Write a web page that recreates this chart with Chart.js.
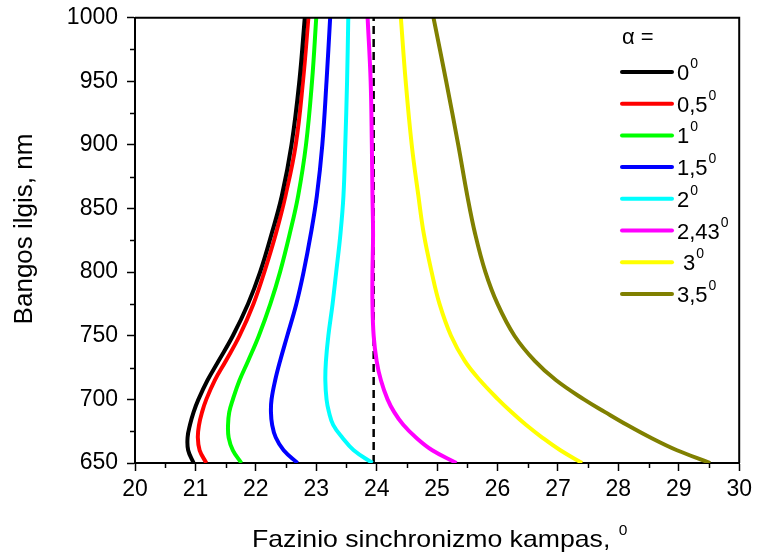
<!DOCTYPE html>
<html>
<head>
<meta charset="utf-8">
<script src="https://cdn.jsdelivr.net/npm/chart.js@4"></script>
<style>
  html, body { margin: 0; padding: 0; background: #fff; }
  #wrap { width: 757px; height: 556px; }
</style>
</head>
<body>
<div id="wrap"><canvas id="myChart" width="757" height="556"></canvas></div>
<script>
// wavelength, nm (y) -- all curves sampled at the same points
var wavelengths = [650, 660, 670, 680, 690, 700, 715, 730, 750, 775, 800, 830, 860, 900, 950, 1000];

// phase matching angle, deg (x) for each alpha
var angle0   = [20.97, 20.88, 20.87, 20.91, 20.97, 21.05, 21.20, 21.38, 21.62, 21.87, 22.07, 22.26, 22.43, 22.59, 22.72, 22.81];
var angle05  = [21.18, 21.07, 21.04, 21.06, 21.11, 21.18, 21.32, 21.50, 21.73, 21.96, 22.14, 22.33, 22.49, 22.66, 22.78, 22.87];
var angle1   = [21.76, 21.62, 21.55, 21.54, 21.56, 21.62, 21.73, 21.87, 22.05, 22.24, 22.40, 22.56, 22.70, 22.83, 22.93, 23.00];
var angle15  = [22.69, 22.46, 22.33, 22.27, 22.25, 22.26, 22.32, 22.40, 22.52, 22.67, 22.79, 22.91, 23.01, 23.10, 23.17, 23.23];
var angle2   = [23.93, 23.62, 23.43, 23.28, 23.21, 23.17, 23.15, 23.16, 23.20, 23.27, 23.33, 23.40, 23.45, 23.48, 23.51, 23.53];
var angle243 = [25.32, 24.92, 24.65, 24.44, 24.29, 24.18, 24.07, 24.00, 23.95, 23.93, 23.93, 23.94, 23.93, 23.92, 23.90, 23.85];
var angle3   = [27.40, 27.04, 26.74, 26.47, 26.23, 26.01, 25.71, 25.46, 25.23, 25.04, 24.91, 24.78, 24.69, 24.58, 24.48, 24.40];
var angle35  = [29.52, 28.97, 28.53, 28.14, 27.78, 27.43, 26.97, 26.62, 26.28, 26.00, 25.80, 25.63, 25.50, 25.35, 25.15, 24.94];

var seriesLabels = ['0', '0,5', '1', '1,5', '2', '2,43', ' 3', '3,5'];
var seriesAngles = [angle0, angle05, angle1, angle15, angle2, angle243, angle3, angle35];
var seriesColors = ['#000000', '#ff0000', '#00ff00', '#0000ff', '#00ffff', '#ff00ff', '#ffff00', '#808000'];

// vertical dashed line
var dashAngle = 23.95;
var dashRange = [650, 1000];

var xTicks = [20, 21, 22, 23, 24, 25, 26, 27, 28, 29, 30];
var yTicks = [650, 700, 750, 800, 850, 900, 950, 1000];

var FONT = 'Liberation Sans, Arial, Helvetica, sans-serif';

var datasets = [];
for (var i = 0; i < seriesAngles.length; i++) {
  datasets.push({
    label: seriesLabels[i],
    data: wavelengths.map(function(w, j){ return {x: seriesAngles[i][j], y: w}; }),
    borderColor: seriesColors[i],
    backgroundColor: seriesColors[i],
    borderWidth: 4,
    pointRadius: 0,
    showLine: true,
    tension: 0.4,
    fill: false
  });
}
datasets.push({
  label: 'dash',
  data: dashRange.map(function(w){ return {x: dashAngle, y: w}; }),
  borderColor: '#000',
  borderWidth: 2.5,
  borderDash: [8, 5],
  pointRadius: 0,
  showLine: true,
  fill: false
});

// minor ticks, frame, axis titles and legend
var extras = {
  id: 'extras',
  afterDraw: function(chart){
    var ctx = chart.ctx;
    var a = chart.chartArea;
    var xs = chart.scales.x, ys = chart.scales.y;
    ctx.save();
    ctx.strokeStyle = '#000';
    ctx.lineWidth = 1.5;
    // minor ticks
    for (var v = 20.5; v < 30; v += 1) {
      var px = Math.round(xs.getPixelForValue(v)) + 0.5;
      ctx.beginPath(); ctx.moveTo(px, a.bottom); ctx.lineTo(px, a.bottom + 5); ctx.stroke();
    }
    for (var w = 675; w < 1000; w += 50) {
      var py = Math.round(ys.getPixelForValue(w)) + 0.5;
      ctx.beginPath(); ctx.moveTo(a.left, py); ctx.lineTo(a.left - 5, py); ctx.stroke();
    }
    // frame top / right
    ctx.lineWidth = 2;
    ctx.beginPath();
    ctx.moveTo(a.left, a.top); ctx.lineTo(a.right, a.top); ctx.lineTo(a.right, a.bottom);
    ctx.stroke();

    ctx.fillStyle = '#000';
    // y title
    ctx.save();
    ctx.translate(25, 229);
    ctx.rotate(-Math.PI / 2);
    ctx.font = '26px ' + FONT;
    ctx.textAlign = 'center';
    ctx.textBaseline = 'middle';
    ctx.fillText('Bangos ilgis, nm', 0, 0);
    ctx.restore();

    // x title with superscript
    ctx.save();
    ctx.font = '24px ' + FONT;
    var t = 'Fazinio sinchronizmo kampas, ';
    var tw = ctx.measureText(t).width;
    ctx.translate(252, 547);
    ctx.scale(1.11, 1);
    ctx.textAlign = 'left';
    ctx.textBaseline = 'alphabetic';
    ctx.fillText(t, 0, 0);
    ctx.font = '14px ' + FONT;
    ctx.fillText('0', tw + 1, -12);
    ctx.restore();

    // legend
    ctx.font = '22px ' + FONT;
    ctx.textAlign = 'left';
    ctx.textBaseline = 'middle';
    ctx.fillText('\u03B1 =', 622, 38);
    ctx.lineCap = 'round';
    for (var k = 0; k < seriesLabels.length; k++) {
      var ry = 72 + k * 31.7;
      ctx.strokeStyle = seriesColors[k];
      ctx.lineWidth = 4;
      ctx.beginPath(); ctx.moveTo(622, ry); ctx.lineTo(672, ry); ctx.stroke();
      ctx.font = '22px ' + FONT;
      ctx.textBaseline = 'alphabetic';
      ctx.fillText(seriesLabels[k], 677, ry + 8);
      var lw = ctx.measureText(seriesLabels[k]).width;
      ctx.font = '14px ' + FONT;
      ctx.fillText('0', 677 + lw + 1, ry - 4);
    }
    ctx.restore();
  }
};

var ctx = document.getElementById('myChart').getContext('2d');
var myChart = new Chart(ctx, {
  type: 'scatter',
  data: { datasets: datasets },
  options: {
    responsive: false,
    animation: false,
    layout: { padding: { left: 0, top: 2, right: 14, bottom: 0 } },
    plugins: { legend: { display: false }, tooltip: { enabled: false } },
    scales: {
      x: {
        type: 'linear', min: 20, max: 30,
        afterFit: function(s){ s.height = 93; },
        afterBuildTicks: function(s){ s.ticks = xTicks.map(function(v){ return {value: v}; }); },
        ticks: { color: '#000', font: { family: FONT, size: 23 }, padding: 5, maxRotation: 0,
                 callback: function(v){ return String(v); } },
        grid: { drawOnChartArea: false, drawTicks: true, tickLength: 8, tickColor: '#000', tickWidth: 1.5 },
        border: { color: '#000', width: 2 }
      },
      y: {
        type: 'linear', min: 650, max: 1000,
        afterFit: function(s){ s.width = 135; },
        afterBuildTicks: function(s){ s.ticks = yTicks.map(function(v){ return {value: v}; }); },
        ticks: { color: '#000', font: { family: FONT, size: 23, lineHeight: 0.75 }, padding: 9,
                 callback: function(v){ return String(v); } },
        grid: { drawOnChartArea: false, drawTicks: true, tickLength: 8, tickColor: '#000', tickWidth: 1.5 },
        border: { color: '#000', width: 2 }
      }
    }
  },
  plugins: [extras]
});
</script>
</body>
</html>
